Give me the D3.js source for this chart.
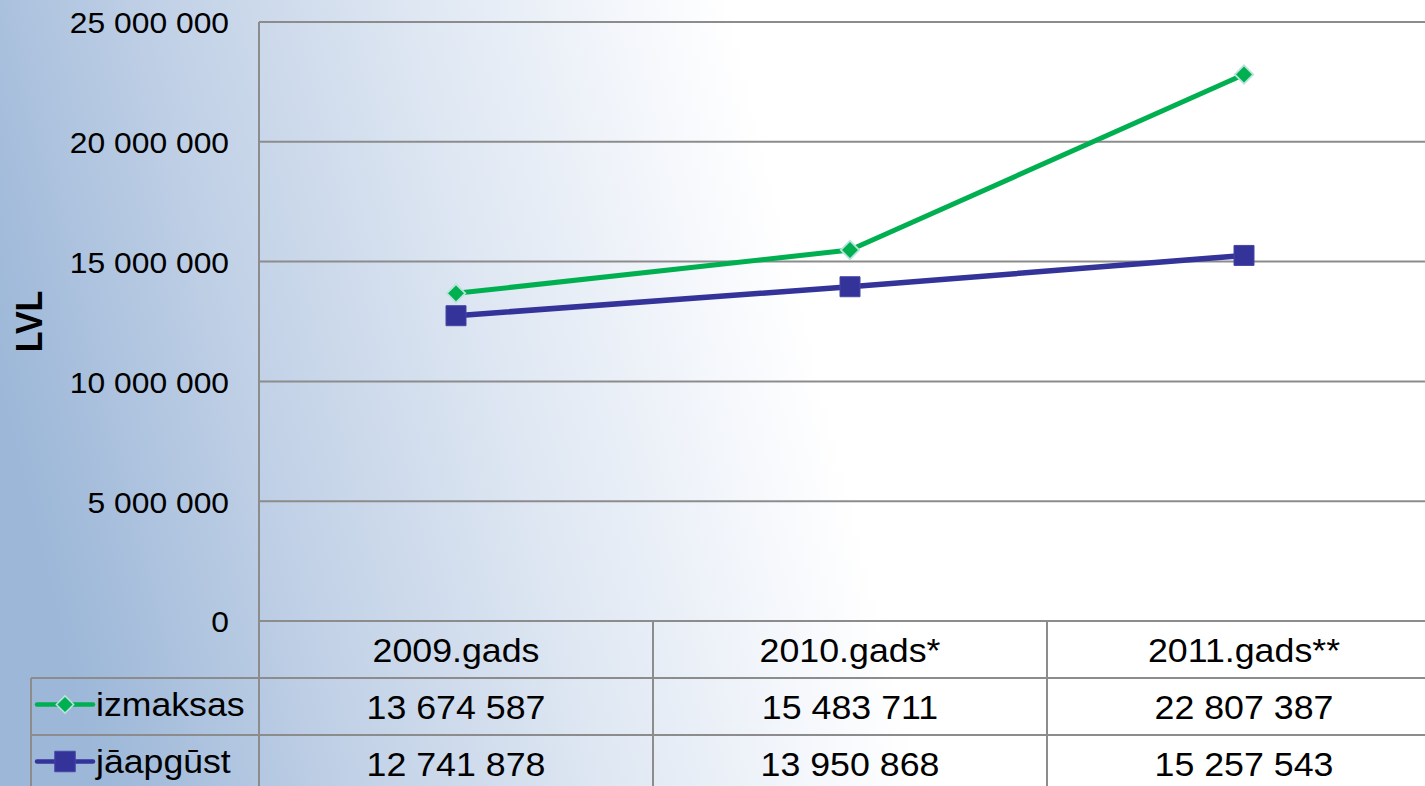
<!DOCTYPE html>
<html>
<head>
<meta charset="utf-8">
<script src="https://cdn.jsdelivr.net/npm/d3@7"></script>
<style>
  html, body { margin: 0; padding: 0; overflow: hidden; background: #fff; }
  svg { display: block; font-family: "Liberation Sans", Arial, sans-serif; }
</style>
</head>
<body>
<svg id="chart" width="1425" height="786"></svg>
<script>
// ---- data ----
const categories = ["2009.gads", "2010.gads*", "2011.gads**"];
const seriesNames = ["izmaksas", "jāapgūst"];
const izmaksas = [13674587, 15483711, 22807387];
const japgust = [12741878, 13950868, 15257543];
const yTicks = [0, 5000000, 10000000, 15000000, 20000000, 25000000];
const yLabel = "LVL";

const W = 1425, H = 786;
const M = { left: 259, top: 22, right: 1441, bottom: 621 };
const rowH = 57;
const legendLeft = 31;
const green = "#00b050", blue = "#333399", grid = "#8c8c8c";

const fmt = v => d3.format(",")(v).replace(/,/g, " ");

const svg = d3.select("#chart");

// background gradient
const defs = svg.append("defs");
const grad = defs.append("linearGradient").attr("id", "bg")
  .attr("gradientUnits", "userSpaceOnUse")
  .attr("x1", 0).attr("y1", 393).attr("x2", 780).attr("y2", 200);
[[0, "#9cb7d8"], [0.3, "#c0d0e6"], [0.6, "#dde6f2"], [0.85, "#f3f6fb"], [1, "#ffffff"]]
  .forEach(([o, c]) => grad.append("stop").attr("offset", o).attr("stop-color", c));
svg.append("rect").attr("width", W).attr("height", H).attr("fill", "url(#bg)");

const x = d3.scaleBand().domain(categories).range([M.left, M.right]);
const y = d3.scaleLinear().domain([0, 25000000]).range([M.bottom, M.top]);

function stretch(sel, k) {
  sel.each(function () {
    const L = this.getComputedTextLength();
    d3.select(this).attr("textLength", L * k).attr("lengthAdjust", "spacingAndGlyphs");
  });
}

// gridlines
svg.append("g").selectAll("line").data(yTicks).join("line")
  .attr("x1", M.left).attr("x2", W + 20)
  .attr("y1", d => y(d)).attr("y2", d => y(d))
  .attr("stroke", grid).attr("stroke-width", 2);

// y axis labels
const yAxis = svg.append("g").attr("transform", `translate(${M.left},0)`)
  .call(d3.axisLeft(y).tickValues(yTicks).tickSize(0).tickPadding(30).tickFormat(fmt));
yAxis.select(".domain").remove();
yAxis.selectAll("text").attr("font-size", 30).attr("fill", "#000")
  .attr("font-family", "Liberation Sans, Arial, sans-serif").attr("dy", "0.36em");
stretch(yAxis.selectAll("text"), 1.06);

// y label
svg.append("g").attr("transform", `translate(29,${(M.top + M.bottom) / 2}) scale(1.1,1) rotate(-90)`)
  .append("text").attr("text-anchor", "middle").attr("dy", "0.36em")
  .attr("font-size", 34).attr("font-weight", "bold").text(yLabel);

// table structure
const tableTop = M.bottom;
const rowsY = [tableTop, tableTop + rowH, tableTop + 2 * rowH, tableTop + 3 * rowH];
const tg = svg.append("g");
tg.append("line").attr("x1", M.left).attr("x2", M.left).attr("y1", M.top).attr("y2", H + 5)
  .attr("stroke", grid).attr("stroke-width", 2);
tg.selectAll("line.col").data(categories.slice(1)).join("line").attr("class", "col")
  .attr("x1", d => x(d)).attr("x2", d => x(d)).attr("y1", tableTop).attr("y2", H + 5)
  .attr("stroke", grid).attr("stroke-width", 2);
tg.append("line").attr("x1", legendLeft).attr("x2", legendLeft).attr("y1", rowsY[1]).attr("y2", H + 5)
  .attr("stroke", grid).attr("stroke-width", 2);
tg.selectAll("line.row").data([rowsY[1], rowsY[2]]).join("line").attr("class", "row")
  .attr("x1", legendLeft).attr("x2", W + 20).attr("y1", d => d).attr("y2", d => d)
  .attr("stroke", grid).attr("stroke-width", 2);

// header labels
const hdr = svg.append("g").selectAll("text").data(categories).join("text")
  .attr("x", d => x(d) + x.bandwidth() / 2).attr("y", rowsY[0] + 41)
  .attr("text-anchor", "middle").attr("font-size", 32.5).text(d => d);
stretch(hdr, 1.1);

const series = [
  { name: seriesNames[0], values: izmaksas, color: green, marker: "diamond" },
  { name: seriesNames[1], values: japgust, color: blue, marker: "square" }
];

series.forEach((s, i) => {
  const rowTop = rowsY[i + 1];
  const vals = svg.append("g").selectAll("text").data(s.values).join("text")
    .attr("x", (d, j) => x(categories[j]) + x.bandwidth() / 2).attr("y", rowTop + 41)
    .attr("text-anchor", "middle").attr("font-size", 32.5).text(d => fmt(d));
  stretch(vals, 1.1);
  const cy = rowTop + rowH / 2 - 2;
  const lg = svg.append("g");
  lg.append("line").attr("x1", 37).attr("x2", 93).attr("y1", cy).attr("y2", cy)
    .attr("stroke", s.color).attr("stroke-width", 4.5).attr("stroke-linecap", "round");
  if (s.marker === "diamond") {
    lg.append("path").attr("d", d3.symbol(d3.symbolSquare, 150)())
      .attr("transform", `translate(65,${cy}) rotate(45)`)
      .attr("fill", s.color).attr("stroke", "#b9e3dc").attr("stroke-width", 1.5);
  } else {
    lg.append("path").attr("d", d3.symbol(d3.symbolSquare, 420)())
      .attr("transform", `translate(65,${cy})`)
      .attr("fill", s.color).attr("stroke", "#4646a6").attr("stroke-width", 1);
  }
  const lt = lg.append("text").attr("x", 96).attr("y", rowTop + 38)
    .attr("font-size", 33).text(s.name);
  stretch(lt, 1.08);
});

// lines and markers
const line = d3.line().x((d, j) => x(categories[j]) + x.bandwidth() / 2).y(d => y(d));
series.forEach(s => {
  svg.append("path").datum(s.values).attr("d", line)
    .attr("fill", "none").attr("stroke", s.color)
    .attr("stroke-width", s.marker === "diamond" ? 5 : 5.5).attr("stroke-linejoin", "round");
});
series.forEach(s => {
  const g = svg.append("g");
  if (s.marker === "diamond") {
    g.selectAll("path").data(s.values).join("path")
      .attr("d", d3.symbol(d3.symbolSquare, 170)())
      .attr("transform", (d, j) => `translate(${x(categories[j]) + x.bandwidth() / 2},${y(d)}) rotate(45)`)
      .attr("fill", s.color).attr("stroke", "#b9e3dc").attr("stroke-width", 1.8);
  } else {
    g.selectAll("path").data(s.values).join("path")
      .attr("d", d3.symbol(d3.symbolSquare, 400)())
      .attr("transform", (d, j) => `translate(${x(categories[j]) + x.bandwidth() / 2},${y(d)})`)
      .attr("fill", s.color).attr("stroke", "#4646a6").attr("stroke-width", 1);
  }
});
</script>
</body>
</html>
